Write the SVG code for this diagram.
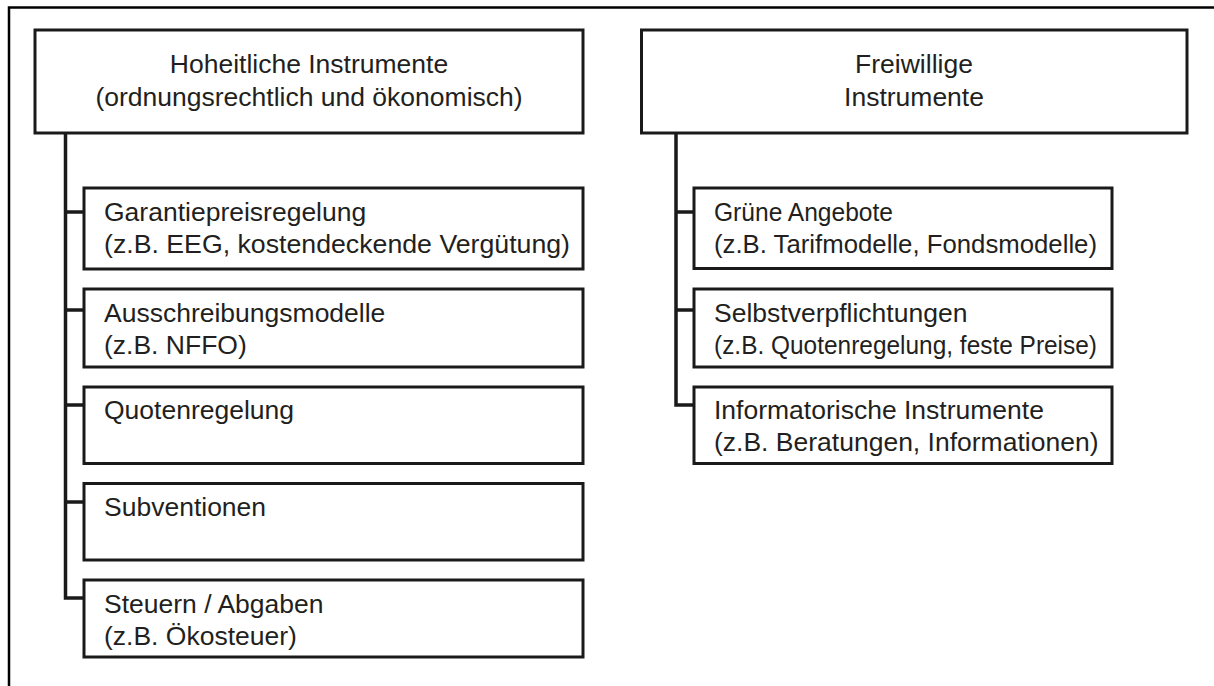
<svg xmlns="http://www.w3.org/2000/svg" width="1214" height="686" viewBox="0 0 1214 686">
<style>
.box{fill:#fff;stroke:#1a1a1a;stroke-width:3}
.con{fill:none;stroke:#1a1a1a;stroke-width:3.5}
.frame{fill:none;stroke:#000;stroke-width:2.5}
text{font-family:"Liberation Sans",Arial,sans-serif;font-size:26.5px;fill:#231f20}
.c{text-anchor:middle}
</style>
<rect width="1214" height="686" fill="#fff"/>
<path class="frame" d="M9 686 V7.5 H1214"/>
<g id="connectors">
<path class="con" d="M65.5 133 V598 H84 M65.5 212 H84 M65.5 310 H84 M65.5 405 H84 M65.5 502 H84"/>
<path class="con" d="M676 133 V405 H694 M676 212 H694 M676 310 H694"/>
</g>
<g id="n-hoheitlich">
<rect class="box" x="35" y="30" width="548" height="103"/>
<text class="c" x="309" y="73">Hoheitliche Instrumente</text>
<text class="c" x="309" y="106">(ordnungsrechtlich und ökonomisch)</text>
</g>
<g id="n-freiwillig">
<rect class="box" x="641.5" y="30" width="545.5" height="103"/>
<text class="c" x="914" y="73">Freiwillige</text>
<text class="c" x="914" y="106">Instrumente</text>
</g>
<g id="n-garantie">
<rect class="box" x="84" y="188" width="499" height="81"/>
<text x="104" y="221">Garantiepreisregelung</text>
<text x="104" y="253" textLength="466" lengthAdjust="spacingAndGlyphs">(z.B. EEG, kostendeckende Vergütung)</text>
</g>
<g id="n-ausschreibung">
<rect class="box" x="84" y="289" width="499" height="78"/>
<text x="104" y="322">Ausschreibungsmodelle</text>
<text x="104" y="354">(z.B. NFFO)</text>
</g>
<g id="n-quote">
<rect class="box" x="84" y="387" width="499" height="76.5"/>
<text x="104" y="419">Quotenregelung</text>
</g>
<g id="n-subvention">
<rect class="box" x="84" y="483.5" width="499" height="76.5"/>
<text x="104" y="516">Subventionen</text>
</g>
<g id="n-steuern">
<rect class="box" x="84" y="580" width="499" height="77"/>
<text x="104" y="613">Steuern / Abgaben</text>
<text x="104" y="645">(z.B. Ökosteuer)</text>
</g>
<g id="n-gruen">
<rect class="box" x="694" y="188" width="418" height="80.5"/>
<text x="714" y="221" textLength="179" lengthAdjust="spacingAndGlyphs">Grüne Angebote</text>
<text x="714" y="253" textLength="383" lengthAdjust="spacingAndGlyphs">(z.B. Tarifmodelle, Fondsmodelle)</text>
</g>
<g id="n-selbst">
<rect class="box" x="694" y="289" width="418" height="78"/>
<text x="714" y="322">Selbstverpflichtungen</text>
<text x="714" y="354" textLength="383" lengthAdjust="spacingAndGlyphs">(z.B. Quotenregelung, feste Preise)</text>
</g>
<g id="n-info">
<rect class="box" x="694" y="387" width="418" height="76.5"/>
<text x="714" y="419">Informatorische Instrumente</text>
<text x="714" y="451">(z.B. Beratungen, Informationen)</text>
</g>
</svg>
